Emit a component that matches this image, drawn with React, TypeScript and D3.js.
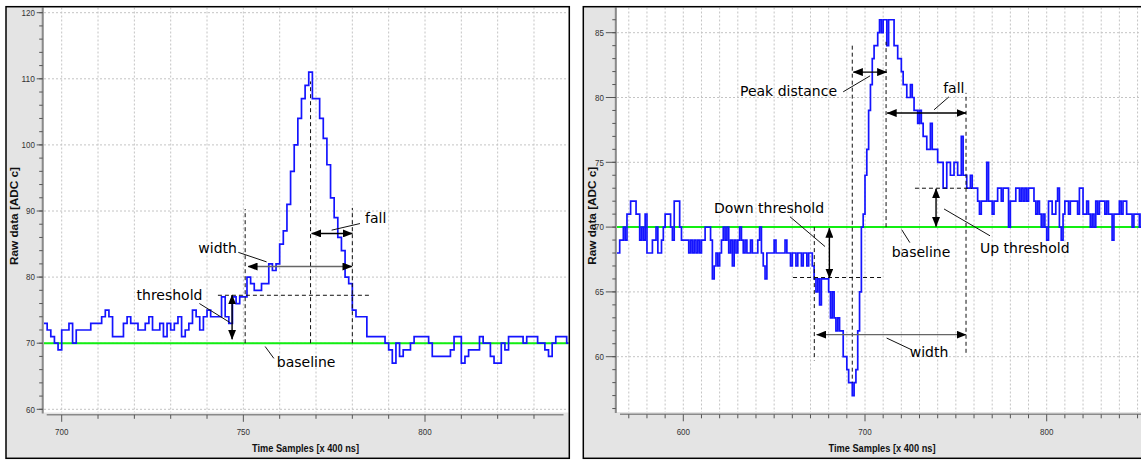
import React from "react";
import * as d3 from "d3";

// ---------------- data ----------------
const leftStartSample = 695;
const leftRaw = [
  73, 72, 71, 70, 69, 72, 72, 73, 70, 72, 72, 72, 72, 73, 73, 73, 74, 75, 74, 71,
  71, 71, 73, 74, 73, 73, 72, 72, 73, 74, 72, 72, 73, 71, 73, 72, 73, 74, 71, 72,
  73, 75, 74, 72, 74, 75, 74, 74, 74, 77, 74, 73, 77, 76, 77, 77, 80, 79, 78, 78,
  79, 79, 82, 81, 82, 85, 87, 91, 96, 100, 104, 107, 109, 111, 107, 107, 104, 101, 97, 92,
  89, 86, 84, 80, 79, 75, 74, 74, 74, 71, 71, 71, 71, 71, 70, 69, 67, 70, 68, 69,
  69, 70, 71, 71, 71, 71, 70, 68, 68, 68, 68, 68, 69, 71, 71, 67, 68, 69, 69, 69,
  71, 70, 70, 68, 67, 67, 70, 69, 71, 71, 71, 71, 70, 71, 71, 71, 70, 70, 69, 68,
  70, 71, 71, 71, 70,
];

const rightStartSample = 563;
const rightRaw = [
  68, 68, 69, 69, 70, 69, 71, 71, 72, 72, 72, 71, 71, 69, 70, 69, 71, 68, 68, 68,
  69, 69, 70, 68, 68, 69, 70, 71, 71, 71, 70, 69, 72, 72, 72, 70, 69, 69, 69, 69,
  68, 69, 68, 69, 68, 69, 68, 69, 69, 70, 70, 70, 69, 66, 67, 68, 67, 68, 69, 70,
  69, 70, 68, 69, 67, 69, 68, 69, 70, 69, 68, 69, 68, 68, 69, 68, 68, 68, 69, 70,
  68, 67, 66, 68, 68, 68, 68, 69, 68, 68, 68, 68, 68, 69, 68, 68, 67, 68, 68, 67,
  68, 68, 67, 68, 68, 67, 68, 68, 67, 66, 65, 66, 64, 66, 66, 66, 66, 65, 63, 65,
  63, 62, 63, 62, 62, 60, 60, 59, 58, 58, 57, 58, 59, 62, 65, 70, 71, 74, 76, 79,
  81, 83, 84, 84, 85, 86, 85, 86, 86, 84, 86, 86, 86, 84, 84, 83, 83, 82, 81, 81,
  80, 80, 81, 80, 79, 79, 78, 79, 78, 77, 77, 76, 76, 78, 76, 76, 76, 75, 75, 75,
  73, 73, 75, 75, 74, 74, 75, 75, 74, 74, 77, 74, 74, 73, 73, 74, 73, 73, 73, 72,
  71, 72, 72, 72, 75, 72, 72, 71, 72, 72, 73, 73, 72, 73, 73, 73, 70, 72, 72, 72,
  73, 73, 72, 73, 72, 73, 72, 73, 73, 73, 72, 71, 72, 71, 70, 71, 70, 69, 72, 72,
  71, 71, 72, 73, 70, 69, 71, 72, 72, 71, 72, 72, 72, 72, 71, 73, 73, 71, 71, 72,
  71, 70, 71, 70, 72, 71, 72, 72, 72, 71, 72, 71, 71, 69, 71, 71, 71, 72, 71, 72,
  72, 71, 71, 71, 70, 71, 71, 71, 70, 71, 72, 71, 70, 71,
];

const baselineLevel = 70;

const leftXTicks = [700, 750, 800];
const leftYTicks = [60, 70, 80, 90, 100, 110, 120];
const rightXTicks = [600, 700, 800];
const rightYTicks = [60, 65, 70, 75, 80, 85];

const xTitle = "Time Samples [x 400 ns]";
const yTitle = "Raw data [ADC c]";

// annotations (in data units)
const leftDashed = [
  { x1: 743, y1: 77.25, x2: 785.1, y2: 77.25 },
  { x1: 750.5, y1: 70, x2: 750.5, y2: 90.3 },
  { x1: 768.5, y1: 70, x2: 768.5, y2: 109.6 },
  { x1: 780, y1: 70, x2: 780, y2: 90.45 },
];
const leftArrows = [
  { x1: 746.9, y1: 77.3, x2: 746.9, y2: 70.6, gray: false },
  { x1: 751.3, y1: 81.6, x2: 779.9, y2: 81.6, gray: true },
  { x1: 768.8, y1: 86.6, x2: 780, y2: 86.6, gray: false },
];
const leftLeaders = [
  { x1: 737.9, y1: 76.0, x2: 746.4, y2: 73.1 },
  { x1: 748.6, y1: 83.75, x2: 756.4, y2: 82.3 },
  { x1: 774.3, y1: 87.1, x2: 782.1, y2: 88.1 },
  { x1: 756, y1: 69.5, x2: 758.4, y2: 67.7 },
];
const leftLabels = [
  { text: "threshold", x: 720.6, y: 77.3 },
  { text: "width", x: 737.6, y: 84.4 },
  { text: "fall", x: 783.5, y: 88.9 },
  { text: "baseline", x: 759.2, y: 67.2 },
];

const rightDashed = [
  { x1: 693, y1: 84, x2: 693, y2: 58 },
  { x1: 711.6, y1: 70, x2: 711.6, y2: 84.3 },
  { x1: 755.6, y1: 60.3, x2: 755.6, y2: 80.36 },
  { x1: 727.5, y1: 73, x2: 758.9, y2: 73 },
  { x1: 660.4, y1: 66.11, x2: 709.2, y2: 66.11 },
  { x1: 672.1, y1: 70, x2: 672.1, y2: 59.7 },
];
const rightArrows = [
  { x1: 693.6, y1: 81.96, x2: 711.9, y2: 81.96, gray: false },
  { x1: 712.2, y1: 78.8, x2: 755.6, y2: 78.8, gray: false },
  { x1: 739.1, y1: 72.96, x2: 739.1, y2: 70.05, gray: false },
  { x1: 680.4, y1: 69.92, x2: 680.4, y2: 66.07, gray: false },
  { x1: 673.4, y1: 61.7, x2: 755.6, y2: 61.7, gray: true },
];
const rightLeaders = [
  { x1: 688, y1: 80.44, x2: 702.8, y2: 81.67 },
  { x1: 738, y1: 79.05, x2: 746.2, y2: 80.05 },
  { x1: 743.5, y1: 71.4, x2: 768.8, y2: 69.33 },
  { x1: 720.2, y1: 69.8, x2: 724.7, y2: 68.8 },
  { x1: 658.7, y1: 70.8, x2: 678, y2: 68.5 },
  { x1: 711.9, y1: 61.44, x2: 725.7, y2: 60.53 },
];
const rightLabels = [
  { text: "Peak distance", x: 631.2, y: 80.54 },
  { text: "fall", x: 743.0, y: 80.75 },
  { text: "Up threshold", x: 763.3, y: 68.4 },
  { text: "baseline", x: 714.7, y: 68.1 },
  { text: "Down threshold", x: 616.9, y: 71.47 },
  { text: "width", x: 724.6, y: 60.35 },
];

// ---------------- styling ----------------
const ANN_FONT = "'DejaVu Sans', Verdana, sans-serif";
const AX_FONT = "'Liberation Sans', Arial, sans-serif";
const PANEL_BG = "#e4e4e4";
const GRID = "#c4c4c4";
const AXIS = "#8a8a8a";

type Seg = { x1: number; y1: number; x2: number; y2: number };
type Arr = Seg & { gray: boolean };
type Lab = { text: string; x: number; y: number };

interface PanelProps {
  id: string;
  frame: { x0: number; y0: number; x1: number; y1: number };
  plot: { x0: number; y0: number; x1: number; y1: number };
  xCal: { d: [number, number]; r: [number, number] };
  yCal: { d: [number, number]; r: [number, number] };
  xTicks: number[];
  xMinorStep: number;
  yTicks: number[];
  yMinorStep: number;
  yTickLen: number;
  start: number;
  values: number[];
  dashed: Seg[];
  arrows: Arr[];
  leaders: Seg[];
  labels: Lab[];
  axisX: number;
  axisY: number;
  xAxisStart: number;
  xTitleX: number;
  yTitleX: number;
}

function Panel(p: PanelProps) {
  const x = d3.scaleLinear().domain(p.xCal.d).range(p.xCal.r);
  const y = d3.scaleLinear().domain(p.yCal.d).range(p.yCal.r);
  const [xd0, xd1] = [x.invert(p.plot.x0), x.invert(Math.min(p.plot.x1, 1141))];
  const [yd0, yd1] = [y.invert(p.plot.y1), y.invert(p.plot.y0)];

  const xGrid = d3.range(Math.ceil(xd0 / p.xMinorStep) * p.xMinorStep, xd1 + 0.001, p.xMinorStep);
  const yMinor = d3.range(Math.ceil(yd0 / p.yMinorStep) * p.yMinorStep, yd1 + 0.001, p.yMinorStep);

  const pts: [number, number][] = p.values.map((v, i) => [p.start + i, v]);
  pts.push([p.start + p.values.length, p.values[p.values.length - 1]]);
  const line = d3
    .line<[number, number]>()
    .x((d) => x(d[0]))
    .y((d) => y(d[1]))
    .curve(d3.curveStepAfter);

  const fs = (n: number) => n.toString().length * 4.45;
  const midY = (p.plot.y0 + p.plot.y1) / 2;

  return (
    <g>
      <rect
        x={p.frame.x0}
        y={p.frame.y0}
        width={p.frame.x1 - p.frame.x0}
        height={p.frame.y1 - p.frame.y0}
        fill={PANEL_BG}
      />
      <rect
        x={p.plot.x0}
        y={p.plot.y0}
        width={p.plot.x1 - p.plot.x0}
        height={p.plot.y1 - p.plot.y0}
        fill="#ffffff"
      />
      <clipPath id={p.id}>
        <rect
          x={p.plot.x0}
          y={p.plot.y0}
          width={p.plot.x1 - p.plot.x0}
          height={p.plot.y1 - p.plot.y0}
        />
      </clipPath>
      <g clipPath={`url(#${p.id})`}>
        {xGrid.map((t) => (
          <line
            key={"gx" + t}
            x1={x(t)}
            x2={x(t)}
            y1={p.plot.y0}
            y2={p.plot.y1}
            stroke={GRID}
            strokeWidth={1}
            strokeDasharray="2,2"
          />
        ))}
        {p.yTicks.map((t) => (
          <line
            key={"gy" + t}
            x1={p.plot.x0}
            x2={p.plot.x1}
            y1={y(t)}
            y2={y(t)}
            stroke={GRID}
            strokeWidth={1}
            strokeDasharray="2,2"
          />
        ))}
        <line
          x1={p.plot.x0}
          x2={p.plot.x1}
          y1={y(baselineLevel)}
          y2={y(baselineLevel)}
          stroke="#11ee11"
          strokeWidth={2}
        />
        <path d={line(pts) || ""} fill="none" stroke="#1414ff" strokeWidth={1.7} />
        {p.dashed.map((s, i) => (
          <line
            key={"d" + i}
            x1={x(s.x1)}
            y1={y(s.y1)}
            x2={x(s.x2)}
            y2={y(s.y2)}
            stroke="#111"
            strokeWidth={1}
            strokeDasharray="4,3"
          />
        ))}
        {p.leaders.map((s, i) => (
          <line
            key={"l" + i}
            x1={x(s.x1)}
            y1={y(s.y1)}
            x2={x(s.x2)}
            y2={y(s.y2)}
            stroke="#111"
            strokeWidth={1}
          />
        ))}
        {p.arrows.map((s, i) => (
          <line
            key={"a" + i}
            x1={x(s.x1)}
            y1={y(s.y1)}
            x2={x(s.x2)}
            y2={y(s.y2)}
            stroke={s.gray ? "#666" : "#000"}
            strokeWidth={1.4}
            markerStart="url(#ah)"
            markerEnd="url(#ah)"
          />
        ))}
        {p.labels.map((l, i) => (
          <text
            key={"t" + i}
            x={x(l.x)}
            y={y(l.y)}
            dy="0.36em"
            fontFamily={ANN_FONT}
            fontSize={14}
            fill="#000"
          >
            {l.text}
          </text>
        ))}
      </g>

      {/* y axis */}
      <line x1={p.axisX} x2={p.axisX} y1={p.plot.y0} y2={p.plot.y1 + 1} stroke={AXIS} strokeWidth={2} />
      {yMinor.map((t) => (
        <line
          key={"ym" + t}
          x1={p.axisX - 3.5}
          x2={p.axisX}
          y1={y(t)}
          y2={y(t)}
          stroke="#555"
          strokeWidth={1}
        />
      ))}
      {p.yTicks.map((t) => (
        <g key={"yt" + t}>
          <line
            x1={p.axisX - p.yTickLen}
            x2={p.axisX}
            y1={y(t)}
            y2={y(t)}
            stroke="#555"
            strokeWidth={1}
          />
          <text
            x={p.axisX - p.yTickLen - 1.8}
            y={y(t)}
            dy="0.34em"
            textAnchor="end"
            fontFamily={AX_FONT}
            fontSize={9.5}
            fill="#333"
            textLength={fs(t)}
            lengthAdjust="spacingAndGlyphs"
          >
            {t}
          </text>
        </g>
      ))}

      {/* x axis */}
      <line
        x1={p.xAxisStart}
        x2={Math.min(p.plot.x1 - 5, 1141)}
        y1={p.axisY}
        y2={p.axisY}
        stroke={AXIS}
        strokeWidth={1.6}
      />
      {xGrid.map((t) => (
        <line
          key={"xm" + t}
          x1={x(t)}
          x2={x(t)}
          y1={p.axisY}
          y2={p.axisY + (p.xTicks.includes(t) ? 7 : 4)}
          stroke="#555"
          strokeWidth={1}
        />
      ))}
      {p.xTicks.map((t) => (
        <text
          key={"xt" + t}
          x={x(t)}
          y={432}
          dy="0.34em"
          textAnchor="middle"
          fontFamily={AX_FONT}
          fontSize={9.5}
          fill="#333"
          textLength={fs(t)}
          lengthAdjust="spacingAndGlyphs"
        >
          {t}
        </text>
      ))}

      {/* titles */}
      <text
        x={p.xTitleX}
        y={448}
        dy="0.35em"
        textAnchor="middle"
        fontFamily={AX_FONT}
        fontWeight="bold"
        fontSize={11}
        fill="#111"
        textLength={107}
        lengthAdjust="spacingAndGlyphs"
      >
        {xTitle}
      </text>
      <text
        transform={`translate(${p.yTitleX},${midY + 6}) rotate(-90)`}
        dy="0.35em"
        textAnchor="middle"
        fontFamily={AX_FONT}
        fontWeight="bold"
        fontSize={11}
        fill="#111"
        textLength={98}
        lengthAdjust="spacingAndGlyphs"
      >
        {yTitle}
      </text>

      <rect
        x={p.frame.x0}
        y={p.frame.y0}
        width={p.frame.x1 - p.frame.x0}
        height={p.frame.y1 - p.frame.y0}
        fill="none"
        stroke="#000"
        strokeWidth={1.5}
      />
    </g>
  );
}

export default function App() {
  return (
    <svg
      width={1141}
      height={460}
      viewBox="0 0 1141 460"
      style={{ position: "absolute", left: 0, top: 0, background: "#fff" }}
    >
      <defs>
        <marker
          id="ah"
          viewBox="0 0 10 8"
          refX={9.5}
          refY={4}
          markerWidth={10}
          markerHeight={8}
          markerUnits="userSpaceOnUse"
          orient="auto-start-reverse"
        >
          <path d="M0,0 L10,4 L0,8 Z" fill="#000" />
        </marker>
      </defs>
      <rect x={0} y={0} width={1141} height={460} fill="#fff" />
      <Panel
        id="clipL"
        frame={{ x0: 6, y0: 6.7, x1: 569.3, y1: 458.3 }}
        plot={{ x0: 44, y0: 7.5, x1: 568.5, y1: 412.5 }}
        xCal={{ d: [700, 800], r: [61.7, 425] }}
        yCal={{ d: [60, 120], r: [409.3, 12.7] }}
        xTicks={leftXTicks}
        xMinorStep={10}
        yTicks={leftYTicks}
        yMinorStep={2}
        yTickLen={6}
        start={leftStartSample}
        values={leftRaw}
        dashed={leftDashed}
        arrows={leftArrows}
        leaders={leftLeaders}
        labels={leftLabels}
        axisX={42.7}
        axisY={414.8}
        xAxisStart={46.7}
        xTitleX={305.5}
        yTitleX={14}
      />
      <Panel
        id="clipR"
        frame={{ x0: 583.3, y0: 6.7, x1: 1160, y1: 458.3 }}
        plot={{ x0: 617, y0: 7.5, x1: 1150, y1: 412 }}
        xCal={{ d: [600, 800], r: [683.3, 1046.7] }}
        yCal={{ d: [60, 85], r: [356.7, 32.7] }}
        xTicks={rightXTicks}
        xMinorStep={10}
        yTicks={rightYTicks}
        yMinorStep={1}
        yTickLen={10}
        start={rightStartSample}
        values={rightRaw}
        dashed={rightDashed}
        arrows={rightArrows}
        leaders={rightLeaders}
        labels={rightLabels}
        axisX={615.8}
        axisY={414.3}
        xAxisStart={620}
        xTitleX={882}
        yTitleX={591.7}
      />
</svg>
  );
}
